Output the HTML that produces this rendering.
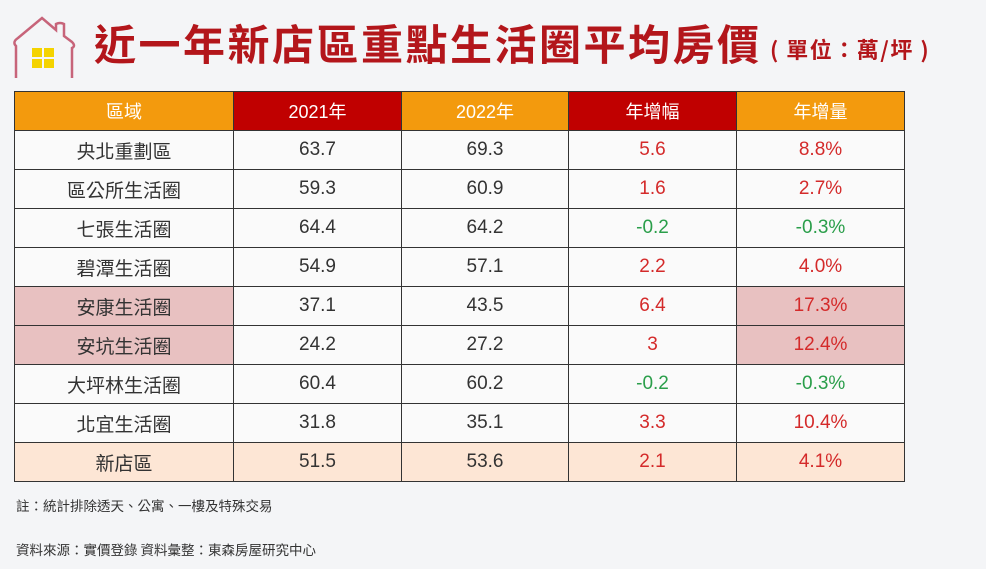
<!DOCTYPE html>
<html><head><meta charset="utf-8"><style>
body{margin:0;width:986px;height:569px;background:#f4f5f7;font-family:"Liberation Sans","Noto Sans CJK TC",sans-serif;position:relative;overflow:hidden}
#title{position:absolute;left:94px;top:12px;font-size:42px;font-weight:bold;color:#b3161b;white-space:nowrap;letter-spacing:2.5px;font-family:"Noto Sans CJK TC",sans-serif}
#unit{position:absolute;left:770px;top:33px;font-size:22px;font-weight:bold;color:#b3161b;letter-spacing:1.5px;white-space:nowrap;font-family:"Noto Sans CJK TC",sans-serif}
table{position:absolute;left:14px;top:91px;border-collapse:collapse;table-layout:fixed}
td,th{border:1px solid #333;text-align:center;font-size:19px;color:#333;height:38px;padding:0;font-weight:normal;font-family:"Liberation Sans","Noto Sans CJK TC",sans-serif}
th{color:#fff;font-size:18px}
.o{background:#f39a0d}.r{background:#c00000}
td{background:#fafafa}
.red{color:#d42a2a}.grn{color:#2a9e4a}
.pk{background:#e8c1c1}
tr.tot td{background:#fde6d5}
.note{position:absolute;left:16px;font-size:13.5px;color:#333;font-family:"Noto Sans CJK TC",sans-serif}
</style></head><body>
<svg style="position:absolute;left:8px;top:12px" width="70" height="70" viewBox="0 0 70 70">
<path d="M8 66 V34 Q4 30 10 26 L34 6 L48 18 V12 Q52 10 56 12 V24 L64 30 Q68 34 64 36 V66" fill="none" stroke="#c7647a" stroke-width="2.5"/>
<g fill="#f4d300"><rect x="24" y="36" width="10" height="9"/><rect x="36" y="36" width="10" height="9"/><rect x="24" y="47" width="10" height="9"/><rect x="36" y="47" width="10" height="9"/></g>
</svg>
<div id="title">近一年新店區重點生活圈平均房價</div>
<div id="unit">( 單位：萬/坪 )</div>
<table>
<colgroup><col style="width:219px"><col style="width:168px"><col style="width:167px"><col style="width:168px"><col style="width:168px"></colgroup>
<tr><th class="o">區域</th><th class="r">2021年</th><th class="o">2022年</th><th class="r">年增幅</th><th class="o">年增量</th></tr>
<tr><td>央北重劃區</td><td>63.7</td><td>69.3</td><td class="red">5.6</td><td class="red">8.8%</td></tr>
<tr><td>區公所生活圈</td><td>59.3</td><td>60.9</td><td class="red">1.6</td><td class="red">2.7%</td></tr>
<tr><td>七張生活圈</td><td>64.4</td><td>64.2</td><td class="grn">-0.2</td><td class="grn">-0.3%</td></tr>
<tr><td>碧潭生活圈</td><td>54.9</td><td>57.1</td><td class="red">2.2</td><td class="red">4.0%</td></tr>
<tr><td class="pk">安康生活圈</td><td>37.1</td><td>43.5</td><td class="red">6.4</td><td class="red pk">17.3%</td></tr>
<tr><td class="pk">安坑生活圈</td><td>24.2</td><td>27.2</td><td class="red">3</td><td class="red pk">12.4%</td></tr>
<tr><td>大坪林生活圈</td><td>60.4</td><td>60.2</td><td class="grn">-0.2</td><td class="grn">-0.3%</td></tr>
<tr><td>北宜生活圈</td><td>31.8</td><td>35.1</td><td class="red">3.3</td><td class="red">10.4%</td></tr>
<tr class="tot"><td>新店區</td><td>51.5</td><td>53.6</td><td class="red">2.1</td><td class="red">4.1%</td></tr>
</table>
<div class="note" style="top:495px">註：統計排除透天、公寓、一樓及特殊交易</div>
<div class="note" style="top:539px">資料來源：實價登錄 資料彙整：東森房屋研究中心</div>
</body></html>
